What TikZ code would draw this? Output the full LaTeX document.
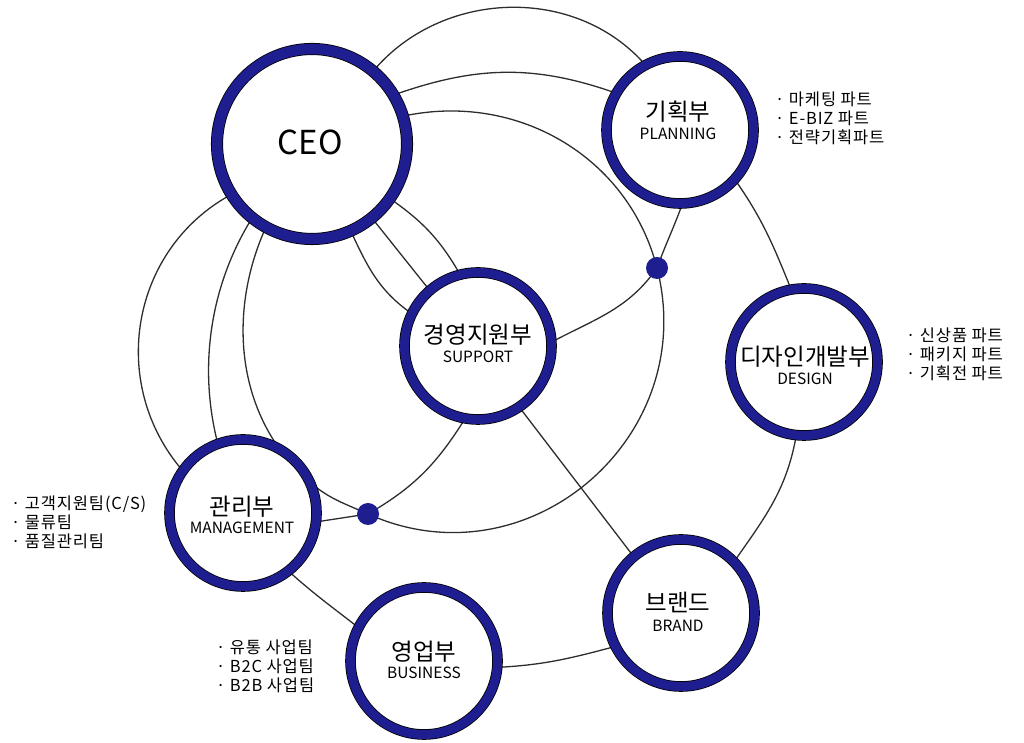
\documentclass[tikz,border=0pt]{standalone}
\usepackage{fontspec}
\setmainfont{Noto Sans CJK KR}
\usetikzlibrary{backgrounds}
\definecolor{ringblue}{RGB}{30,30,145}
\definecolor{wirecol}{RGB}{45,45,45}
\tikzset{
  dept/.style={circle, draw=black, line width=0.8pt, double=ringblue, double distance=9pt, fill=white, minimum size=147pt, inner sep=0pt, outer sep=0pt},
  chief/.style={dept, minimum size=190pt, double distance=10.5pt},
  hub/.style={circle, fill=ringblue, minimum size=22pt, inner sep=0pt, outer sep=0pt},
  wire/.style={draw=wirecol, line width=1.3pt},
  kor/.style={font=\fontsize{23.5}{26}\selectfont, inner sep=0pt},
  eng/.style={font=\fontsize{15.5}{18}\selectfont, inner sep=0pt},
  bigtxt/.style={font=\fontsize{33}{36}\selectfont, inner sep=0pt},
  sublist/.style={font=\fontsize{16.5}{19}\selectfont\addfontfeature{LetterSpace=5}, align=left, anchor=west, inner sep=0pt},
}
\begin{document}
\begin{tikzpicture}[x=1pt,y=1pt]
\useasboundingbox (0,0) rectangle (1024,743);
% department circles
\node[chief] (ceo) at (312,599) {};
\node[dept] (plan) at (680,613) {};
\node[dept] (sup) at (478,397) {};
\node[dept] (des) at (804,381) {};
\node[dept] (mgmt) at (243,230) {};
\node[dept] (bus) at (424,82) {};
\node[dept] (brand) at (681,130) {};
\node[hub] (dotA) at (657,475) {};
\node[hub] (dotB) at (368,229) {};
% connectors
\begin{scope}[on background layer]
\draw[wire] (ceo.50) to[out=50,in=131] (plan.118.5);
\draw[wire] (ceo.31.5) to[out=19.5,in=160.5] (plan.150.3);
% large ring through both hubs
\draw[wire] (ceo.17.6) to[out=12.3,in=104.4] (dotA.center);
\draw[wire] (dotA.center) to[out=-75.6,in=-24.2,looseness=1.18] (dotB.center);
\draw[wire] (dotB.center) to[out=155.8,in=-41] (mgmt.25);
\draw[wire] (mgmt.60.3) to[out=125.6,in=245.6,looseness=0.91] (ceo.241.2);
% planning - hub - support
\draw[wire] (plan.-88.6) to[out=-110,in=70] (dotA.center);
\draw[wire] (dotA.center) to[out=-125,in=28] (sup.3);
% outer ring
\draw[wire] (plan.-42.4) to[out=-55,in=112] (des.100);
\draw[wire] (des.-96.6) to[out=-100,in=55] (brand.44.5);
\draw[wire] (brand.207.5) to[out=195,in=3] (bus.-5);
\draw[wire] (mgmt.-52.4) to[out=-42,in=142] (bus.153.8);
\draw[wire] (ceo.212.4) to[out=208.5,in=130.8,looseness=1.05] (mgmt.145.3);
\draw[wire] (ceo.231) to[out=-122,in=104.5,looseness=0.89] (mgmt.110.5);
% ceo - support
\draw[wire] (ceo.-66.7) to[out=-65,in=145] (sup.154.1);
\draw[wire] (ceo.-51.1) -- (sup.131.3);
\draw[wire] (ceo.-35.4) to[out=-35,in=120] (sup.104.4);
% support links
\draw[wire] (sup.-56.3) -- (brand.130);
\draw[wire] (sup.-100.7) to[out=-122,in=30] (dotB.center);
\draw[wire] (dotB.center) -- (mgmt.-7.6);
\end{scope}
% labels
\node[bigtxt] (ceo-t) at (310,601) {CEO};
\node[kor] (plan-k) at (678,631) {기획부};
\node[eng] (plan-e) at (678,609) {PLANNING};
\node[kor] (sup-k) at (478,408) {경영지원부};
\node[eng] (sup-e) at (478,386) {SUPPORT};
\node[kor] (des-k) at (805,386) {디자인개발부};
\node[eng] (des-e) at (805,364) {DESIGN};
\node[kor] (mgmt-k) at (242,236) {관리부};
\node[eng] (mgmt-e) at (242,215) {MANAGEMENT};
\node[kor] (bus-k) at (424,91) {영업부};
\node[eng] (bus-e) at (424,70) {BUSINESS};
\node[kor] (brand-k) at (678,141) {브랜드};
\node[eng] (brand-e) at (678,117) {BRAND};
% side lists
\node[sublist] (plan-l) at (775,625) {· 마케팅 파트\\· E-BIZ 파트\\· 전략기획파트};
\node[sublist] (des-l) at (906,389) {· 신상품 파트\\· 패키지 파트\\· 기획전 파트};
\node[sublist] (mgmt-l) at (11,221) {· 고객지원팀(C/S)\\· 물류팀\\· 품질관리팀};
\node[sublist] (bus-l) at (216,77) {· 유통 사업팀\\· B2C 사업팀\\· B2B 사업팀};
\end{tikzpicture}
\end{document}
